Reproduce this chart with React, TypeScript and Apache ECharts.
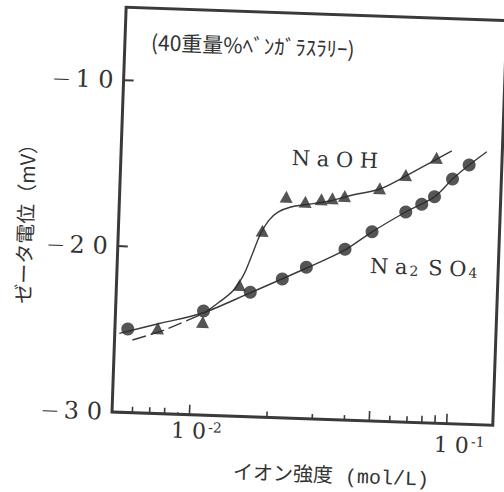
import React, { useEffect, useRef } from "react";
import * as echarts from "echarts";

// Measured data (ionic strength mol/L, zeta potential mV)
const naohX = [0.00733, 0.01094, 0.01503, 0.01811, 0.02221, 0.02636, 0.0304, 0.03353, 0.03741, 0.05105, 0.06417, 0.084];
const naohY = [-24.86, -24.39, -22.08, -18.77, -16.67, -16.93, -16.75, -16.67, -16.51, -15.97, -15.11, -14.01];
const na2so4X = [0.00561, 0.01098, 0.01658, 0.02198, 0.02716, 0.03814, 0.04831, 0.06491, 0.07469, 0.08351, 0.09757, 0.1127];
const na2so4Y = [-24.97, -23.73, -22.5, -21.63, -20.88, -19.71, -18.6, -17.34, -16.84, -16.36, -15.26, -14.38];

// Hand-drawn fitted curves
const naohDashX = [0.00587, 0.00779, 0.01108];
const naohDashY = [-25.62, -24.95, -23.84];
const naohFitX = [0.01108, 0.0125, 0.0142, 0.0155, 0.0166, 0.0178, 0.0191, 0.0207, 0.0232, 0.0267, 0.03277, 0.04018, 0.05105, 0.06475, 0.08425, 0.09612];
const naohFitY = [-23.84, -23.2, -22.45, -21.5, -20.3, -19.0, -18.15, -17.62, -17.28, -17.1, -16.84, -16.43, -16.01, -15.14, -14.09, -13.57];
const na2so4FitX = [0.00521, 0.00743, 0.01089, 0.01648, 0.02723, 0.03805, 0.04818, 0.06491, 0.08373, 0.09757, 0.1127, 0.1315];
const na2so4FitY = [-25.25, -24.57, -23.85, -22.55, -20.92, -19.76, -18.62, -17.34, -16.35, -15.26, -14.38, -13.54];

// Axis
const xTickValues = [0.006, 0.007, 0.008, 0.009, 0.01, 0.02, 0.03, 0.04, 0.05, 0.06, 0.07, 0.08, 0.09, 0.1];
const xTickLengths = [6, 6, 6, 2, 10, 6, 5, 5, 10, 6, 6, 7, 8, 10];
const yMin = -30;
const yMax = -5.6;
const xMin = 0.005;
const xMax = 0.151;

const title = "(40重量%ﾍﾞﾝｶﾞﾗｽﾗﾘｰ)";
const yName = "ゼータ電位（mV）";
const xName = "イオン強度 (mol/L)";

const INK = "#333333";
const LINE = "#3a3a3a";
const SERIF = "'DejaVu Serif', 'Liberation Serif', serif";
const CJK = "'Noto Sans CJK JP', sans-serif";

const zip = (xs: number[], ys: number[]) => xs.map((x, i) => [x, ys[i]]);

export default function App() {
  const ref = useRef<HTMLDivElement>(null);
  useEffect(() => {
    if (!ref.current) return;
    const chart = echarts.init(ref.current, null, { renderer: "svg" });
    chart.setOption({
      animation: false,
      backgroundColor: "transparent",
      grid: {
        left: 112,
        top: 7,
        width: 381,
        height: 405,
        show: true,
        borderColor: LINE,
        borderWidth: 3,
        backgroundColor: "transparent",
      },
      xAxis: {
        type: "log",
        logBase: 10,
        min: xMin,
        max: xMax,
        axisLine: { show: false },
        axisTick: { show: false },
        axisLabel: { show: false },
        splitLine: { show: false },
        minorTick: { show: false },
      },
      yAxis: {
        type: "value",
        min: yMin,
        max: yMax,
        interval: 10,
        axisLine: { show: false },
        axisTick: { show: true, inside: true, length: 10, lineStyle: { color: LINE, width: 2 } },
        splitLine: { show: false },
        axisLabel: {
          margin: 10,
          color: INK,
          showMaxLabel: false,
          formatter: (v: number) =>
            Math.abs(v % 10) < 1e-9 ? "{m|\u2014}{d|" + String(Math.abs(v)).split("").join(" ") + "}" : "",
          rich: {
            m: { fontFamily: SERIF, fontSize: 16, color: INK, verticalAlign: "middle", padding: [0, 6, 0, 0] },
            d: { fontFamily: SERIF, fontSize: 24, color: INK, verticalAlign: "middle" },
          },
        },
      },
      graphic: [
        { type: "text", x: 240, y: 40, style: { text: title, font: `21px ${CJK}`, fill: INK, textAlign: "center", textVerticalAlign: "middle" } },
        { type: "text", x: 326, y: 152, style: { text: "N a O H", font: `21px ${SERIF}`, fill: INK, textAlign: "center", textVerticalAlign: "middle" } },
        {
          type: "text", x: 420, y: 257,
          style: {
            text: "{m|N a}{s|2}{m| S O}{s|4}",
            fill: INK, textAlign: "center", textVerticalAlign: "middle",
            rich: {
              m: { fontFamily: SERIF, fontSize: 21, fill: INK, verticalAlign: "bottom" },
              s: { fontFamily: SERIF, fontSize: 14, fill: INK, verticalAlign: "bottom", padding: [0, 3, 0, 2] },
            },
          },
        },
        { type: "text", x: 18, y: 222, rotation: Math.PI / 2, style: { text: yName, font: `20px ${CJK}`, fill: INK, textAlign: "center", textVerticalAlign: "middle" } },
        { type: "text", x: 333, y: 469, style: { text: xName, font: `20px 'Liberation Mono', ${CJK}`, fill: INK, textAlign: "center", textVerticalAlign: "middle" } },
        {
          type: "text", x: 197, y: 428,
          style: {
            text: "{m|1 0}{s|-2}", fill: INK, textAlign: "center", textVerticalAlign: "middle",
            rich: {
              m: { fontFamily: SERIF, fontSize: 22, fill: INK },
              s: { fontFamily: SERIF, fontSize: 14, fill: INK, verticalAlign: "top", padding: [0, 0, 0, 2] },
            },
          },
        },
        {
          type: "text", x: 460, y: 433,
          style: {
            text: "{m|1 0}{s|-1}", fill: INK, textAlign: "center", textVerticalAlign: "middle",
            rich: {
              m: { fontFamily: SERIF, fontSize: 22, fill: INK },
              s: { fontFamily: SERIF, fontSize: 14, fill: INK, verticalAlign: "top", padding: [0, 0, 0, 2] },
            },
          },
        },
      ],
      series: [
        {
          type: "custom",
          coordinateSystem: "cartesian2d",
          silent: true,
          data: xTickValues.map((v) => [v, yMin]),
          renderItem: (params: any, api: any) => {
            const p = api.coord([api.value(0), api.value(1)]);
            const len = xTickLengths[params.dataIndex];
            return {
              type: "line",
              shape: { x1: p[0], y1: p[1], x2: p[0], y2: p[1] - len },
              style: { stroke: LINE, lineWidth: 1.6 },
            };
          },
          z: 5,
        },
        {
          type: "line",
          data: zip(naohDashX, naohDashY),
          showSymbol: false,
          smooth: 0.3,
          lineStyle: { color: LINE, width: 1.4, type: [14, 5] },
        },
        {
          type: "line",
          data: zip(naohFitX, naohFitY),
          showSymbol: false,
          smooth: 0.35,
          lineStyle: { color: LINE, width: 1.4 },
        },
        {
          type: "line",
          data: zip(na2so4FitX, na2so4FitY),
          showSymbol: false,
          smooth: 0.3,
          lineStyle: { color: LINE, width: 1.4 },
        },
        {
          type: "scatter",
          data: zip(naohX, naohY),
          symbol: "triangle",
          symbolSize: [13, 12],
          itemStyle: { color: "#2a2a2a" },
          z: 6,
        },
        {
          type: "scatter",
          data: zip(na2so4X, na2so4Y),
          symbol: "circle",
          symbolSize: 13,
          itemStyle: { color: "#2a2a2a" },
          z: 6,
        },
      ],
    });
    return () => chart.dispose();
  }, []);

  return (
    <div style={{ position: "fixed", left: 0, top: 0, width: 504, height: 492, overflow: "hidden", background: "#fff" }}>
      <div
        ref={ref}
        style={{ width: 504, height: 492, transform: "rotate(2deg)", transformOrigin: "112px 412px" }}
      />
    </div>
  );
}
